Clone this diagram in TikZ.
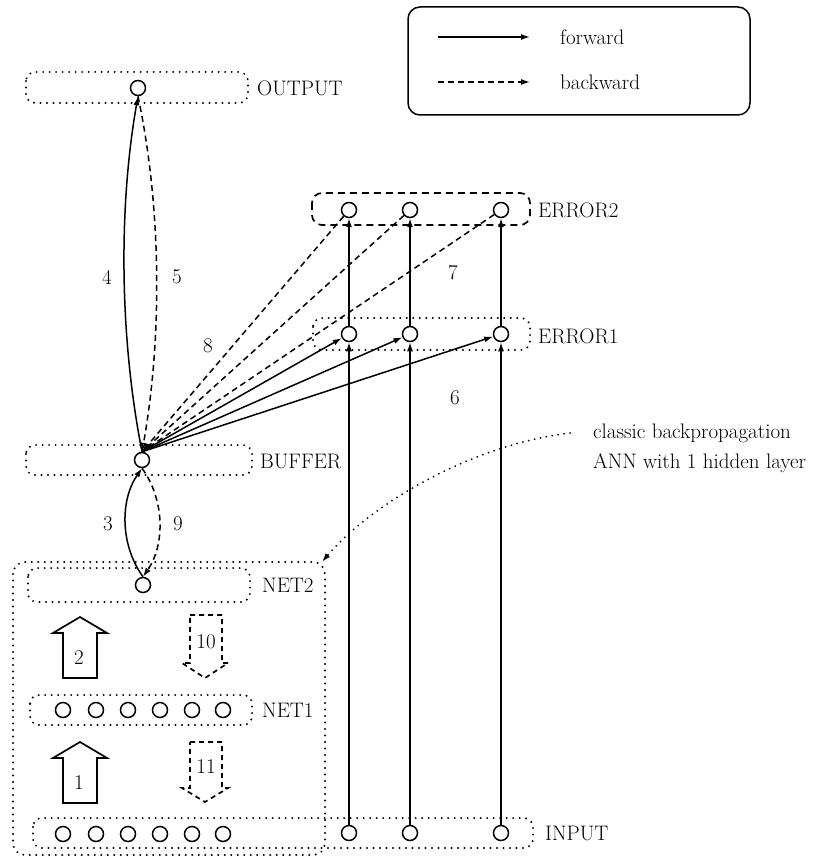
\documentclass[tikz,border=0pt]{standalone}
\usetikzlibrary{arrows.meta}
\begin{document}
\begin{tikzpicture}[x=1pt,y=-1pt,
  font=\fontsize{21}{25}\selectfont,
  neuron/.style={circle,draw,line width=1.5pt,minimum size=15pt,inner sep=0pt,fill=white},
  layer/.style={line width=2.2pt,dash pattern=on 0pt off 6.5pt,line cap=round,rounded corners=9pt},
  errbox/.style={line width=1.7pt,dash pattern=on 7pt off 5pt,rounded corners=10pt},
  fwd/.style={line width=1.5pt,-{Latex[length=9pt,width=6pt]}},
  bwd/.style={line width=1.5pt,dash pattern=on 6pt off 4pt,-{Latex[open,length=9pt,width=6pt]}},
  lbl/.style={anchor=west,inner sep=0pt},
  num/.style={inner sep=0pt},
  bigup/.style={line width=1.7pt,line join=miter},
  bigdown/.style={line width=1.7pt,dash pattern=on 5pt off 4pt,line join=miter},
]
\useasboundingbox (0,0) rectangle (833,858);

% legend
\draw[line width=1.5pt,rounded corners=12pt] (408,7) rectangle (750,115);
\coordinate (lf1) at (438,37); \coordinate (lf2) at (530,37);
\coordinate (lb1) at (438,82); \coordinate (lb2) at (530,82);
\draw[fwd] (lf1) -- (lf2);
\draw[bwd] (lb1) -- (lb2);
\node[lbl] (tfw) at (560,37) {forward};
\node[lbl] (tbw) at (560,82) {backward};

% OUTPUT
\draw[layer] (26,72) rectangle (248,103);
\node[neuron] (out) at (138,88) {};
\node[lbl] (tout) at (257,88) {OUTPUT};

% ERROR2
\draw[errbox] (312,193) rectangle (530,225);
\node[neuron] (e2a) at (349,210) {};
\node[neuron] (e2b) at (410,210) {};
\node[neuron] (e2c) at (501,210) {};
\node[lbl] (te2) at (538,210) {ERROR2};

% ERROR1
\draw[layer] (313,318) rectangle (530,350);
\node[neuron] (e1a) at (349,334) {};
\node[neuron] (e1b) at (410,334) {};
\node[neuron] (e1c) at (501,334) {};
\node[lbl] (te1) at (538,336) {ERROR1};

% BUFFER
\draw[layer] (26,445) rectangle (252,475);
\node[neuron] (buf) at (142,460) {};
\node[lbl] (tbuf) at (260,461) {BUFFER};

% outer ANN box
\draw[layer,rounded corners=12pt] (13,562) rectangle (325,855);

% NET2
\draw[layer] (28,568) rectangle (250,602);
\node[neuron] (n2) at (143,585) {};
\node[lbl] (tn2) at (262,585) {NET2};

% NET1
\draw[layer] (30,695) rectangle (252,725);
\foreach \i/\x in {1/63,2/96,3/128,4/160,5/192,6/223}
  \node[neuron] (n1\i) at (\x,710) {};
\node[lbl] (tn1) at (262,710) {NET1};

% INPUT
\draw[layer] (33,818) rectangle (533,848);
\foreach \i/\x in {1/63,2/96,3/128,4/160,5/192,6/223}
  \node[neuron] (il\i) at (\x,834) {};
\node[neuron] (in1) at (349,833) {};
\node[neuron] (in2) at (410,833) {};
\node[neuron] (in3) at (501,833) {};
\node[lbl] (tin) at (545,833) {INPUT};

% vertical forward lines
\draw[fwd] (in1) -- (e1a);
\draw[fwd] (in2) -- (e1b);
\draw[fwd] (in3) -- (e1c);
\draw[fwd] (e1a) -- (e2a);
\draw[fwd] (e1b) -- (e2b);
\draw[fwd] (e1c) -- (e2c);

% buffer <-> error
\draw[fwd] (buf.north) -- (e1a);
\draw[fwd] (buf.north) -- (e1b);
\draw[fwd] (buf.north) -- (e1c);
\draw[bwd] (e2a) -- (buf.north);
\draw[bwd] (e2b) -- (buf.north);
\draw[bwd] (e2c) -- (buf.north);

% buffer <-> output
\draw[fwd] (buf.north) .. controls (120,340) and (118,210) .. (out.south);
\draw[bwd] (out.south) .. controls (162,210) and (162,340) .. (buf.north);

% buffer <-> net2
\draw[fwd] (n2.north) .. controls (120,545) and (120,500) .. (buf.south);
\draw[bwd] (buf.south) .. controls (165,500) and (165,545) .. (n2.north);

% numbers
\node[num] (l4) at (107,277) {4};
\node[num] (l5) at (177,277) {5};
\node[num] (l3) at (108,524) {3};
\node[num] (l9) at (178,524) {9};
\node[num] (l6) at (455,398) {6};
\node[num] (l7) at (453,273) {7};
\node[num] (l8) at (208,346) {8};

% big arrows
\draw[bigup] (63,678) -- (63,633) -- (53,633) -- (80,617) -- (107,633) -- (97,633) -- (97,678) -- cycle;
\node[num] (l2) at (79,658) {2};
\draw[bigup] (63,803) -- (63,758) -- (53,758) -- (80,742) -- (107,758) -- (97,758) -- (97,803) -- cycle;
\node[num] (l1) at (79,783) {1};
\draw[bigdown] (190,615) -- (222,615) -- (222,663) -- (228,663) -- (205,678) -- (182,663) -- (190,663) -- cycle;
\node[num] (l10) at (206,642) {10};
\draw[bigdown] (190,742) -- (222,742) -- (222,788) -- (228,788) -- (205,802) -- (182,788) -- (190,788) -- cycle;
\node[num] (l11) at (206,767) {11};

% annotation
\node[lbl] (cls) at (593,433) {classic backpropagation};
\node[lbl] (ann2) at (593,463) {ANN with 1 hidden layer};
\coordinate (annst) at (570,433);
\coordinate (anntip) at (322,562);
\draw[line width=2pt,dash pattern=on 0pt off 6pt,line cap=round,-{Latex[open,length=9pt,width=6pt]}]
  (annst) .. controls (470,445) and (370,505) .. (anntip);
\end{tikzpicture}
\end{document}
